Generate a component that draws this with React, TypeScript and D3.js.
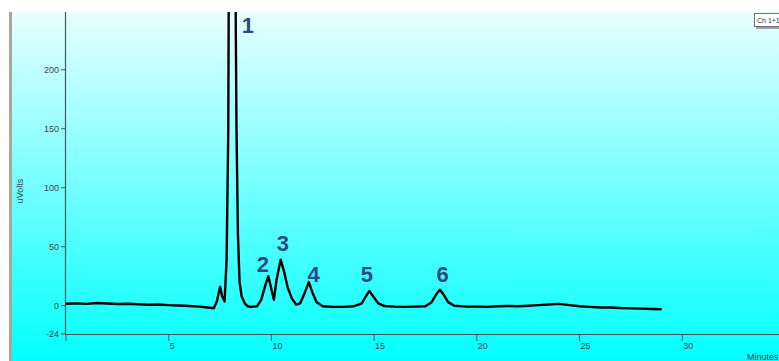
import React from "react";
import * as d3 from "d3";

const times = [0, 0.5, 1, 1.5, 2, 2.5, 3, 3.5, 4, 4.5, 5, 5.5, 6, 6.5, 7, 7.2, 7.35, 7.5, 7.6, 7.72, 7.82, 7.9, 7.95, 8.05, 8.2, 8.3, 8.37, 8.45, 8.55, 8.7, 8.85, 9.0, 9.3, 9.5, 9.7, 9.85, 10.0, 10.12, 10.25, 10.45, 10.6, 10.8, 11.0, 11.2, 11.4, 11.6, 11.82, 12.0, 12.2, 12.5, 13, 13.5, 14, 14.4, 14.6, 14.77, 14.95, 15.2, 15.5, 16, 16.5, 17, 17.5, 17.8, 18.0, 18.2, 18.4, 18.6, 18.9, 19.5, 20, 20.5, 21, 21.5, 22, 22.5, 23, 23.5, 24, 24.5, 25, 25.5, 26, 26.5, 27, 27.5, 28, 28.5, 29];
const volts = [1.7, 2, 1.5, 2.3, 1.8, 1.4, 1.6, 1.2, 0.8, 1.0, 0.5, 0.2, -0.3, -0.8, -1.8, -2.2, 4, 16, 8, 3.5, 40, 150, 400, 600, 400, 150, 60, 20, 8, 2, -0.5, -1, -0.5, 5, 17, 25, 14, 5, 22, 39, 30, 15, 6, 1, 2, 10, 20, 11, 3, -0.5, -1, -1, -0.5, 2, 8, 12.5, 8, 2, -0.3, -0.8, -1, -0.8, -0.5, 3, 9, 13.5, 9, 3, 0, -0.8, -0.8, -1, -0.5, -0.3, -0.5, 0, 0.5, 1, 1.5, 0.5, -0.5, -1, -1.5, -1.5, -2, -2.3, -2.5, -2.8, -3];

const xTicks = [0, 5, 10, 15, 20, 25, 30];
const yTicks = [-24, 0, 50, 100, 150, 200];
const peakLabels = ["1", "2", "3", "4", "5", "6"];
const peakTimes = [8.86, 9.59, 10.56, 12.05, 14.65, 18.33];
const peakLabelValues = [231, 28.5, 46.5, 20, 20, 20];

export default function App() {
  const W = 779, H = 361;
  const x = d3.scaleLinear().domain([0, 34.71]).range([66, 779]);
  const y = d3.scaleLinear().domain([-24, 249]).range([334, 12]);
  const pts: [number, number][] = times.map((t, i) => [t, volts[i]]);
  const line = d3.line<[number, number]>().x(d => x(d[0])).y(d => y(d[1]));
  const axisColor = "#3d5c5c";
  const tickColor = "#444";
  const font = "Liberation Sans, Arial, sans-serif";
  return (
    <svg width={W} height={H} style={{ position: "absolute", left: 0, top: 0 }}>
      <defs>
        <linearGradient id="bg" x1="0" y1="0" x2="0" y2="1">
          <stop offset="0" stopColor="#e8ffff" />
          <stop offset="1" stopColor="#00ffff" />
        </linearGradient>
        <clipPath id="plot">
          <rect x={66} y={12} width={713} height={322} />
        </clipPath>
      </defs>
      <rect x={0} y={0} width={W} height={H} fill="#ffffff" />
      <rect x={12} y={12} width={W - 12} height={H - 12} fill="url(#bg)" />
      <rect x={9} y={12} width={3} height={H - 12} fill="#a8a898" />
      <line x1={65.5} y1={12} x2={65.5} y2={334.5} stroke={axisColor} strokeWidth={1.2} />
      <line x1={65} y1={334.5} x2={779} y2={334.5} stroke={axisColor} strokeWidth={1.2} />
      {yTicks.map(v => (
        <g key={v}>
          <line x1={61} x2={65.5} y1={y(v)} y2={y(v)} stroke={axisColor} strokeWidth={1} />
          <text x={59} y={y(v) + 3} textAnchor="end" fontSize={9} fontFamily={font} fill={tickColor}>{v}</text>
        </g>
      ))}
      {xTicks.map(v => (
        <g key={v}>
          <line x1={x(v)} x2={x(v)} y1={334.5} y2={341} stroke={axisColor} strokeWidth={1} />
          {v > 0 && (
            <text x={x(v) + 1} y={349} textAnchor="start" fontSize={9} fontFamily={font} fill={tickColor}>{v}</text>
          )}
        </g>
      ))}
      <text x={747} y={360} fontSize={9} fontFamily={font} fill={tickColor}>Minutes</text>
      <text transform="translate(23,191) rotate(-90)" textAnchor="middle" fontSize={9} fontFamily={font} fill={tickColor}>uVolts</text>
      <rect x={756} y={15} width={40} height={14} fill="#a0a0a0" />
      <rect x={754.5} y={13.5} width={40} height={13} fill="#ffffff" stroke="#707070" strokeWidth={1} />
      <text x={757} y={23} fontSize={7} fontFamily={font} fill="#333">Ch 1+1</text>
      <g clipPath="url(#plot)">
        <path d={line(pts) || ""} fill="none" stroke="#000" strokeWidth={2.4} strokeLinejoin="round" />
      </g>
      {peakLabels.map((lab, i) => (
        <text key={lab} x={x(peakTimes[i])} y={y(peakLabelValues[i])} textAnchor="middle" fontSize={22} fontWeight="bold" fontFamily={font} fill="#2c4a7c">{lab}</text>
      ))}
    </svg>
  );
}
